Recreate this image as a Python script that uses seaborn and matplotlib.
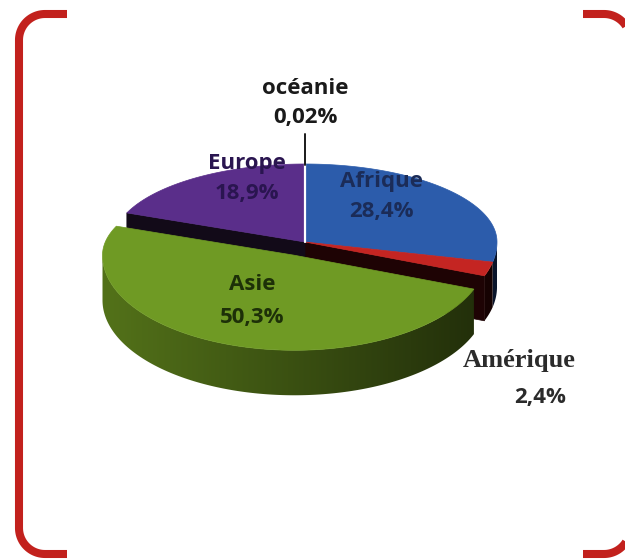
import numpy as np
import matplotlib
matplotlib.use("Agg")
import matplotlib.pyplot as plt
from matplotlib.patches import Polygon
import seaborn as sns

# data
labels = ["Afrique", "Amérique", "Asie", "Europe", "océanie"]
values = [28.4, 2.4, 50.3, 18.9, 0.02]
value_text = ["28,4%", "2,4%", "50,3%", "18,9%", "0,02%"]
top_colors = ["#2c5cab", "#c42522", "#6f9a24", "#5a2e8a", "#ffffff"]
side_colors = ["#1c3a75", "#3a0606", "#56761a", "#1a1024", "#ffffff"]
text_colors = ["#1b2c58", "#2b2b2b", "#1d3008", "#2a1550", "#1a1a1a"]
explode = [0, 0, 0.15, 0, 0]

sns.set_theme(style="white")
plt.rcParams["font.family"] = ["Open Sans", "DejaVu Sans"]

fig = plt.figure(figsize=(6.25, 5.6), dpi=100)
ax = fig.add_axes([0, 0, 1, 1])
ax.set_xlim(0, 625)
ax.set_ylim(560, 0)
ax.axis("off")

cx, cy = 305, 242
rx, ry_back, ry_front = 192, 78, 95
depth = 45


def pt(t, off=(0, 0), dz=0):
    ry = ry_back if np.sin(t) > 0 else ry_front
    return (cx + off[0] + rx * np.cos(t), cy + off[1] - ry * np.sin(t) + dz)


# slice angles, clockwise from 12 o'clock
total = sum(values)
bounds = 90 - np.concatenate([[0], np.cumsum(values)]) / total * 360
slices = []
for i in range(len(values)):
    t1, t2 = np.radians(bounds[i]), np.radians(bounds[i + 1])
    mid = (t1 + t2) / 2
    off = (explode[i] * rx * np.cos(mid), -explode[i] * ry_front * np.sin(mid))
    slices.append((t1, t2, off))


def draw_sides(i, z):
    t1, t2, off = slices[i]
    ts = np.linspace(t2, t1, 240)
    ts = ts[np.sin(ts) <= 0.01]
    if len(ts) < 2:
        return
    top = [pt(t, off) for t in ts]
    bot = [pt(t, off, depth) for t in ts[::-1]]
    poly = Polygon(top + bot, closed=True, fc="none", ec="none", zorder=z)
    ax.add_patch(poly)
    # horizontal shading: lighter on the left, dark on the right
    xs = np.linspace(0, 625, 400)
    f = 0.95 - 0.58 * np.clip((xs - (cx - rx)) / (2 * rx), 0, 1)
    base = np.array(matplotlib.colors.to_rgb(side_colors[i]))
    grad = np.clip(base[None, None, :] * f[None, :, None], 0, 1)
    im = ax.imshow(grad, extent=(0, 625, 560, 0), aspect="auto",
                   interpolation="bilinear", zorder=z)
    im.set_clip_path(poly)


def draw_top(i, z):
    t1, t2, off = slices[i]
    ts = np.linspace(t1, t2, 200)
    poly = [(cx + off[0], cy + off[1])] + [pt(t, off) for t in ts]
    ax.add_patch(Polygon(poly, closed=True, fc=top_colors[i], ec=top_colors[i],
                         lw=0.5, zorder=z))


def radial_face(t, col, z):
    c = (cx, cy)
    e = pt(t)
    quad = [c, e, (e[0], e[1] + depth), (c[0], c[1] + depth)]
    ax.add_patch(Polygon(quad, closed=True, fc=col, ec=col, lw=0.5, zorder=z))


# back body (not exploded)
for i in [0, 1, 3]:
    draw_sides(i, 1)
radial_face(slices[1][1], "#1e0304", 2)
radial_face(slices[3][0], "#120a18", 2)
for i in [0, 1, 3]:
    draw_top(i, 3)
ax.plot([cx, cx], [cy, cy - ry_back], color="white", lw=1.6, zorder=4)

# exploded Asie slice in front
draw_sides(2, 5)
draw_top(2, 6)

# leader for océanie
ax.plot([cx, cx], [134, cy - ry_back + 1], color="#1a1a1a", lw=1.4, zorder=4)

# labels
fs = 16
bold = dict(ha="center", va="center", fontsize=fs, fontweight="bold", zorder=8)
ax.text(305, 88, "océanie", color=text_colors[4], **bold)
ax.text(305, 117, value_text[4], color=text_colors[4], **bold)
ax.text(247, 164, labels[3], color=text_colors[3], **bold)
ax.text(247, 194, value_text[3], color=text_colors[3], **bold)
ax.text(381, 181, labels[0], color=text_colors[0], **bold)
ax.text(381, 212, value_text[0], color=text_colors[0], **bold)
ax.text(252, 285, labels[2], color=text_colors[2], **bold)
ax.text(252, 317, value_text[2], color=text_colors[2], **bold)
ax.text(519, 361, labels[1], ha="center", va="center", fontsize=19,
        fontweight="bold", color=text_colors[1], family="Liberation Serif", zorder=8)
ax.text(540, 398, value_text[1], color=text_colors[1], **bold)

# red bracket frame
red = "#c2211d"
r = 26
arc = np.linspace(0, np.pi / 2, 30)
lw = 5.8
# left bracket
xs = [67, 19 + r] + list(19 + r - r * np.sin(arc)) + [19, 19] + list(19 + r - r * np.cos(arc)) + [67]
ys = [14, 14] + list(14 + r - r * np.cos(arc)) + [14 + r, 554 - r] + list(554 - r + r * np.sin(arc)) + [554]
ax.plot(xs, ys, color=red, lw=lw, solid_capstyle="butt", zorder=9)
# right bracket (vertical part falls off the image)
xr = 630
xs = [583, xr - r] + list(xr - r + r * np.sin(arc)) + [xr, xr] + list(xr - r + r * np.cos(arc)) + [583]
ys = [14, 14] + list(14 + r - r * np.cos(arc)) + [14 + r, 554 - r] + list(554 - r + r * np.sin(arc)) + [554]
ax.plot(xs, ys, color=red, lw=lw, solid_capstyle="butt", zorder=9)

ax.set_xlim(0, 625)
ax.set_ylim(560, 0)
fig.savefig("out.png", dpi=100, facecolor="white")
